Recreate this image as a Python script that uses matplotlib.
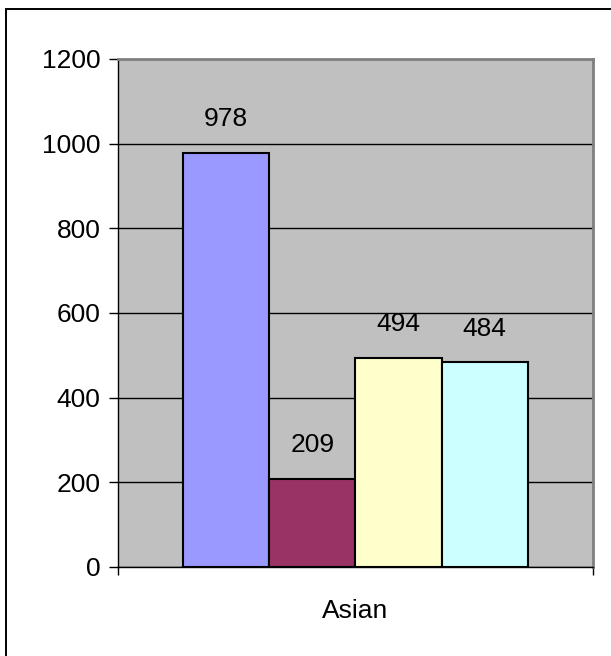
import numpy as np
import matplotlib
matplotlib.use('Agg')
import matplotlib.pyplot as plt
from matplotlib.patches import Rectangle

plt.rcParams['font.family'] = ['Liberation Sans', 'DejaVu Sans']

# data
category = 'Asian'
values = [978, 209, 494, 484]
colors = ['#9999FF', '#993366', '#FFFFCC', '#CCFFFF']
y_ticks = [0, 200, 400, 600, 800, 1000, 1200]

fig = plt.figure(figsize=(6.11, 6.56), dpi=100)
ax = fig.add_axes([0.193, 0.1357, 0.7775, 0.7744])
ax.set_facecolor('#C0C0C0')

# outer frame around the whole chart
fig.patches.append(Rectangle((0.0098, -0.1), 1.2, 1.086, transform=fig.transFigure,
                             fill=False, edgecolor='black', linewidth=1.4))

bar_w = 0.1815
xs = 0.5 + (np.arange(len(values)) - 1.5) * bar_w
ax.bar(xs, values, width=bar_w, color=colors, edgecolor='black', linewidth=1.5, zorder=3)

for x, v in zip(xs, values):
    ax.annotate(str(v), (x, v), xytext=(0, 15.5), textcoords='offset points',
                ha='center', va='bottom', fontsize=19, zorder=4)

ax.set_xlim(0, 1)
ax.set_ylim(0, 1200)
ax.set_yticks(y_ticks)
ax.tick_params(axis='y', labelsize=19, length=6.5, width=1, direction='out', pad=6)
ax.yaxis.grid(True, color='black', linewidth=1)
ax.set_axisbelow(True)

ax.set_xticks([0.5], [category])
ax.set_xticks([0, 1], minor=True)
ax.tick_params(axis='x', which='major', length=0, labelsize=19, pad=23)
ax.tick_params(axis='x', which='minor', length=6, width=1, direction='out')

for side in ['top', 'right']:
    ax.spines[side].set_color('#808080')
    ax.spines[side].set_linewidth(2)
for side in ['left', 'bottom']:
    ax.spines[side].set_color('black')
    ax.spines[side].set_linewidth(1)

fig.savefig('out.png', dpi=100)
